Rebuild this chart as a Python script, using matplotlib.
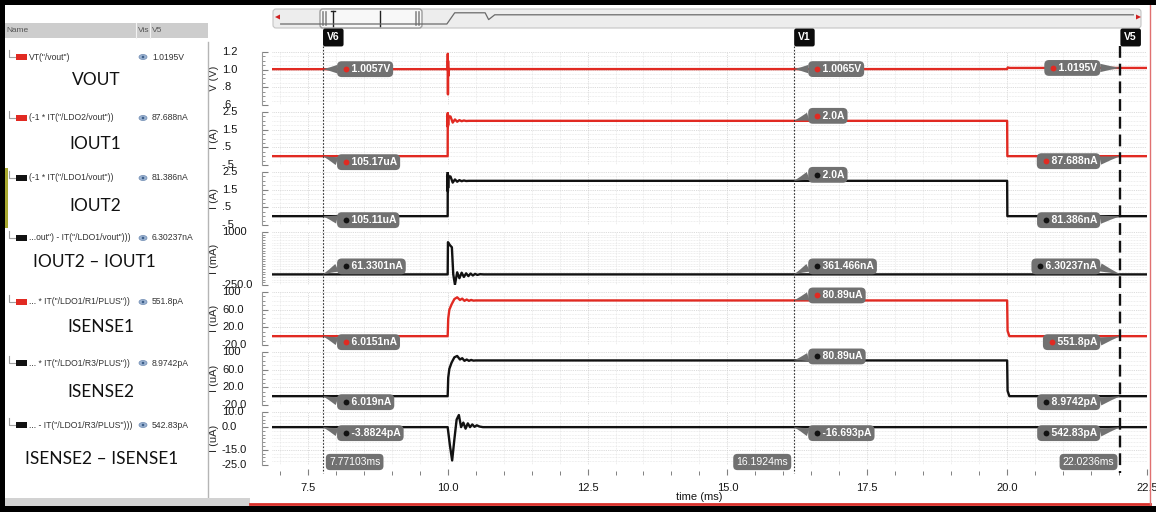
import numpy as np
import matplotlib
matplotlib.use("Agg")
import matplotlib.pyplot as plt
from matplotlib import transforms
from matplotlib.text import Text
from matplotlib.lines import Line2D
from matplotlib.patches import Rectangle, FancyBboxPatch, Ellipse, Polygon
from matplotlib.ticker import FixedLocator, MultipleLocator, FuncFormatter

plt.rcParams["font.family"] = ["Liberation Sans", "DejaVu Sans"]

# ---------------------------------------------------------------
# Transient results (time in ms)
# ---------------------------------------------------------------
T_VOUT = [6.86, 10.0, 10.002, 10.005, 10.008, 10.012, 10.02, 20.0, 20.01, 20.05, 22.5]
VOUT_V = [1.0057, 1.0057, 1.18, 0.72, 1.10, 0.93, 1.0065, 1.0065, 1.0250, 1.0195, 1.0195]

T_IOUT = [6.86, 10.0, 10.002, 10.004, 10.006, 10.008, 10.011, 10.05, 10.09, 10.13,
          10.17, 10.21, 10.25, 10.29, 10.33, 10.38, 20.0, 20.004, 22.5]
IOUT1_A = [105.17e-6, 105.17e-6, 2.45, 1.65, 2.35, 1.75, 2.2, 2.25, 1.9, 2.08,
           1.95, 2.04, 1.98, 2.02, 1.99, 2.0, 2.0, 87.688e-9, 87.688e-9]
IOUT2_A = [105.11e-6, 105.11e-6, 2.5, 1.4, 2.35, 1.6, 2.2, 2.25, 1.9, 2.08,
           1.95, 2.04, 1.98, 2.02, 1.99, 2.0, 2.0, 81.386e-9, 81.386e-9]

T_DIOUT = [6.86, 10.0, 10.005, 10.04, 10.075, 10.1, 10.13, 10.17, 10.21, 10.25, 10.29,
           10.33, 10.37, 10.41, 10.45, 10.49, 10.53, 10.58, 10.64, 20.0, 20.004, 22.5]
DIOUT_MA = [61.3301e-6, 61.3301e-6, 760, 690, 640, 0, -240, 50, -90, 40, -60,
            25, -40, 20, -25, 12, -12, 5, 361.466e-6, 361.466e-6, 6.30237e-6, 6.30237e-6]

T_IS = [6.86, 10.0, 10.01, 10.03, 10.07, 10.12, 10.17, 10.22, 10.26, 10.3,
        10.34, 10.38, 10.42, 10.46, 10.5, 20.0, 20.008, 20.04, 22.5]
IS1_UA = [6.0151e-3, 6.0151e-3, 40, 60, 72, 84, 88, 82, 85, 80,
          83, 80, 82, 80.5, 80.89, 80.89, 12, 551.8e-6, 551.8e-6]
IS2_UA = [6.019e-3, 6.019e-3, 42, 62, 76, 88, 91, 83, 86, 80,
          83, 80, 82, 80.5, 80.89, 80.89, 12, 8.9742e-6, 8.9742e-6]

T_DIS = [6.86, 10.0, 10.04, 10.08, 10.12, 10.16, 10.2, 10.24, 10.28, 10.32,
         10.36, 10.4, 10.44, 10.48, 10.52, 10.57, 10.63, 20.0, 20.004, 22.5]
DIS_UA = [-3.8824e-6, -3.8824e-6, -12, -22, -8, 5, 8, 0, 3, -1,
          2.5, 0, 1.8, 0.2, 1.2, 0.4, -16.693e-6, -16.693e-6, 542.83e-6, 542.83e-6]

# strip setup
STRIP_T = [T_VOUT, T_IOUT, T_IOUT, T_DIOUT, T_IS, T_IS, T_DIS]
STRIP_V = [VOUT_V, IOUT1_A, IOUT2_A, DIOUT_MA, IS1_UA, IS2_UA, DIS_UA]
STRIP_COLOR = ["red", "red", "black", "black", "red", "black", "black"]
STRIP_UNITS = ["V (V)", "I (A)", "I (A)", "I (mA)", "I (uA)", "I (uA)", "I (uA)"]
STRIP_YLIM = [(0.6, 1.2), (-0.5, 2.5), (-0.5, 2.5), (-250, 1000), (-20, 100), (-20, 100), (-25, 10)]
STRIP_YTICKS = [[0.6, 0.8, 1.0, 1.2], [-0.5, 0.5, 1.5, 2.5], [-0.5, 0.5, 1.5, 2.5],
                [-250, 1000], [-20, 20, 60, 100], [-20, 20, 60, 100], [-25, -15, 0, 10]]
STRIP_YTICKLABELS = [[".6", ".8", "1.0", "1.2"], ["-.5", ".5", "1.5", "2.5"],
                     ["-.5", ".5", "1.5", "2.5"], ["-250.0", "1000"],
                     ["-20.0", "20.0", "60.0", "100"], ["-20.0", "20.0", "60.0", "100"],
                     ["-25.0", "-15.0", "0.0", "10.0"]]
STRIP_YMINOR = [0.05, 0.25, 0.25, 62.5, 10, 10, 2.5]

# cursors
CURSOR_NAMES = ["V6", "V1", "V5"]
CURSOR_T = [7.77103, 16.1924, 22.0236]
CURSOR_READOUT = ["7.77103ms", "16.1924ms", "22.0236ms"]
V6_TAGS = ["1.0057V", "105.17uA", "105.11uA", "61.3301nA", "6.0151nA", "6.019nA", "-3.8824pA"]
V1_TAGS = ["1.0065V", "2.0A", "2.0A", "361.466nA", "80.89uA", "80.89uA", "-16.693pA"]
V5_TAGS = ["1.0195V", "87.688nA", "81.386nA", "6.30237nA", "551.8pA", "8.9742pA", "542.83pA"]

# browser panel
LEGEND_EXPR = ['VT("/vout")', '(-1 * IT("/LDO2/vout"))', '(-1 * IT("/LDO1/vout"))',
               '...out") - IT("/LDO1/vout")))', '... * IT("/LDO1/R1/PLUS"))',
               '... * IT("/LDO1/R3/PLUS"))', '... - IT("/LDO1/R3/PLUS")))']
LEGEND_NAMES = ["VOUT", "IOUT1", "IOUT2", "IOUT2 \u2013 IOUT1", "ISENSE1", "ISENSE2",
                "ISENSE2 \u2013 ISENSE1"]

# navigation bar trace, in bar-relative units
OVERVIEW_POS = [0.01, 0.201, 0.21, 0.245, 0.249, 0.256, 0.99]
OVERVIEW_LVL = [0.2, 0.2, 0.76, 0.76, 0.42, 0.66, 0.66]

# ---------------------------------------------------------------
W, H = 1156, 512
RED = "#e12a22"
BLK = "#121212"
COLORS = {"red": RED, "black": BLK}
TAG_BG = "#717171"

fig = plt.figure(figsize=(W / 100, H / 100), dpi=100)
fig.patch.set_facecolor("white")
PX = transforms.Affine2D().scale(1, -1).translate(0, H)   # top-left pixel frame


def fx(x):
    return x / W


def fy(y):
    return 1 - y / H


AX_L, AX_R = 272, 1147
STRIP_TOPS = [52, 112, 172, 232, 292, 352, 412]
STRIP_H = 53
XLIM = (6.86, 22.5)

TAG_DY = [(0, 0, 0), (-6, 5, -5), (-4, 6, -4), (8, 8, 8), (-6, 5, -6), (-6, 4, -6), (-6, -6, -6)]

axes = []
tags = []
for i in range(7):
    top = STRIP_TOPS[i]
    ax = fig.add_axes([fx(AX_L), fy(top + STRIP_H), (AX_R - AX_L) / W, STRIP_H / H])
    axes.append(ax)
    col = COLORS[STRIP_COLOR[i]]
    ax.plot(STRIP_T[i], STRIP_V[i], color=col, lw=1.7, zorder=3)
    ax.set_xlim(*XLIM)
    ax.set_ylim(*STRIP_YLIM[i])
    ax.set_axisbelow(True)

    ax.yaxis.set_major_locator(FixedLocator(STRIP_YTICKS[i]))
    ax.yaxis.set_minor_locator(MultipleLocator(STRIP_YMINOR[i]))
    ax.xaxis.set_major_locator(MultipleLocator(2.5))
    ax.xaxis.set_minor_locator(MultipleLocator(0.5))
    ax.grid(which="major", color="#cfcfcf", ls=(0, (1, 1.2)), lw=0.6)
    ax.grid(which="minor", color="#e0e0e0", ls=(0, (1, 1.2)), lw=0.5)

    for s in ["top", "right", "bottom"]:
        ax.spines[s].set_visible(False)
    ax.spines["left"].set_position(("outward", 7))
    ax.spines["left"].set_color("#9a9a9a")
    ax.spines["left"].set_linewidth(0.8)
    ax.tick_params(axis="y", which="both", direction="in", colors="#808080",
                   labelleft=False)
    ax.tick_params(axis="y", which="major", length=4, width=0.8)
    ax.tick_params(axis="y", which="minor", length=2.5, width=0.6)

    ylab_tr = transforms.blended_transform_factory(ax.transAxes, ax.transData)
    for v, s in zip(STRIP_YTICKS[i], STRIP_YTICKLABELS[i]):
        ax.text(-(AX_L - 222) / (AX_R - AX_L), v, s, transform=ylab_tr, ha="left",
                va="center", fontsize=8, color="#151515", clip_on=False)
    ax.set_ylabel(STRIP_UNITS[i], fontsize=8, color="#2a2a2a")
    ax.yaxis.set_label_coords(-(AX_L - 219) / (AX_R - AX_L), 0.5)

    if i < 6:
        ax.tick_params(axis="x", which="both", length=0, labelbottom=False)
    else:
        ax.spines["bottom"].set_position(("outward", 7))
        ax.tick_params(axis="x", which="both", direction="in", colors="#808080",
                       labelcolor="#151515", labelsize=8, pad=6)
        ax.tick_params(axis="x", which="major", length=4, width=0.8)
        ax.tick_params(axis="x", which="minor", length=3, width=0.7)
        ax.xaxis.set_major_formatter(FuncFormatter(lambda v, _: f"{v:.1f}"))
        ax.set_xlabel("time (ms)", fontsize=8, color="#151515")
        ax.xaxis.set_label_coords((699 - AX_L) / (AX_R - AX_L), -(492 - 465) / STRIP_H)

    # cursor readouts on this strip
    for k, (tc, lab_list) in enumerate(zip(CURSOR_T, [V6_TAGS, V1_TAGS, V5_TAGS])):
        yv = np.interp(tc, STRIP_T[i], STRIP_V[i])
        right = k < 2
        dx = 17 if right else -23
        ann = ax.annotate("    " + lab_list[i], xy=(tc, yv), xytext=(dx, TAG_DY[i][k]),
                          textcoords="offset pixels", ha="left" if right else "right",
                          va="center", fontsize=7.5, fontweight="bold", color="white",
                          bbox=dict(boxstyle="round,pad=0.28,rounding_size=0.45",
                                    fc=TAG_BG, ec="none"),
                          arrowprops=dict(arrowstyle="wedge,tail_width=0.8,shrink_factor=0.45",
                                          fc=TAG_BG, ec="none", shrinkA=0, shrinkB=0,
                                          relpos=(0, 0.5) if right else (1, 0.5)),
                          annotation_clip=False, zorder=6)
        tags.append((ann, col))

# time readouts at the bottom of the last strip
bot = axes[-1]
bt = transforms.blended_transform_factory(bot.transData, bot.transAxes)
for k, (tc, s) in enumerate(zip(CURSOR_T, CURSOR_READOUT)):
    right = k == 0
    bot.annotate(s, xy=(tc, 0), xycoords=bt, xytext=(6 if right else -6, 3),
                 textcoords="offset pixels", ha="left" if right else "right", va="center",
                 fontsize=7.5, color="white",
                 bbox=dict(boxstyle="round,pad=0.3,rounding_size=0.4", fc=TAG_BG, ec="none"),
                 annotation_clip=False, zorder=6)

# cursor lines spanning every strip, with their name flags
ct = transforms.blended_transform_factory(axes[0].transData, fig.transFigure)
for k, (tc, name) in enumerate(zip(CURSOR_T, CURSOR_NAMES)):
    if k == 2:
        ls, lw, c = (0, (5, 2.5)), 1.7, "#111111"
    else:
        ls, lw, c = (0, (1.5, 1.5)), 0.8, "#333333"
    fig.add_artist(Line2D([tc, tc], [fy(46), fy(473)], transform=ct, ls=ls, lw=lw,
                          color=c, zorder=4))
    fig.text(tc, fy(37.5), name, transform=transforms.offset_copy(ct, fig, x=4, units="dots"),
             ha="left", va="center", fontsize=7.5, fontweight="bold", color="white",
             bbox=dict(boxstyle="round,pad=0.38,rounding_size=0.2", fc="#0c0c0c", ec="none"),
             zorder=7)

# ---------------------------------------------------------------
# navigation bar
fig.add_artist(FancyBboxPatch((273, 9), 868, 19, boxstyle="round,pad=0,rounding_size=3",
                              fc="#ededed", ec="#c4c4c4", lw=0.8, transform=PX, zorder=1))
fig.add_artist(FancyBboxPatch((320, 9), 102, 19, boxstyle="round,pad=0,rounding_size=3",
                              fc="#f8f8f8", ec="#9c9c9c", lw=1.0, transform=PX, zorder=1))
for xh in [323, 326, 416, 419]:
    fig.add_artist(Line2D([xh, xh], [12, 25], transform=PX, color="#8a8a8a", lw=1.2, zorder=2))
for xh in [333, 380]:
    fig.add_artist(Line2D([xh, xh], [11, 26], transform=PX, color="#222222", lw=1.0, zorder=2))
fig.add_artist(Line2D([331, 335], [11, 11], transform=PX, color="#222222", lw=1.0, zorder=2))
fig.add_artist(Polygon([(275, 17), (280, 14.5), (280, 19.5)], transform=PX, fc="#d02020",
                       ec="none", zorder=2))
fig.add_artist(Polygon([(1141, 17), (1136, 14.5), (1136, 19.5)], transform=PX, fc="#d02020",
                       ec="none", zorder=2))
ov = fig.add_axes([fx(272), fy(28), 870 / W, 20 / H])
ov.set_zorder(3)
ov.patch.set_visible(False)
ov.set_xlim(0, 1)
ov.set_ylim(0, 1)
ov.axis("off")
ov.plot(OVERVIEW_POS, OVERVIEW_LVL, color="#6a6a6a", lw=0.9)

# ---------------------------------------------------------------
# waveform browser panel
fig.add_artist(Rectangle((5, 23), 203, 15, transform=PX, fc="#cdcdcd", ec="none", zorder=1))
for xs in [136, 150]:
    fig.add_artist(Line2D([xs, xs], [23, 38], transform=PX, color="#f2f2f2", lw=0.8, zorder=2))
for x0, s in [(6, "Name"), (138, "Vis"), (152, "V5")]:
    fig.text(x0, 30.5, s, transform=PX, fontsize=6, color="#555555", va="center", zorder=3)
fig.add_artist(Line2D([208, 208], [42, 498], transform=PX, color="#b5b5b5", lw=1.0, zorder=2))

ROW_Y = [57, 118, 178, 238, 302, 363, 425]
NAME_XY = [(96, 80), (95, 144), (95, 206), (94, 262), (101, 327), (101, 392), (102, 459)]
for i in range(7):
    y = ROW_Y[i]
    col = COLORS[STRIP_COLOR[i]]
    fig.add_artist(Line2D([9, 9, 15], [y - 7, y, y], transform=PX, color="#a0a0a0", lw=0.8,
                          zorder=2))
    fig.add_artist(Rectangle((16, y - 3), 11, 6, transform=PX, fc=col, ec="none", zorder=2))
    fig.text(29, y, LEGEND_EXPR[i], transform=PX, fontsize=6.2, color="#333333",
             va="center", zorder=3)
    fig.add_artist(Ellipse((143, y), 8, 5, transform=PX, fc="#9db4d2", ec="#6a88b0", lw=0.5,
                           zorder=2))
    fig.add_artist(Ellipse((143, y), 2.6, 2.6, transform=PX, fc="#3d5f8a", ec="none", zorder=3))
    fig.text(152, y, V5_TAGS[i], transform=PX, fontsize=6.2, color="#333333", va="center",
             zorder=3)
    nx, ny = NAME_XY[i]
    fig.text(nx, ny, LEGEND_NAMES[i], transform=PX, fontsize=12.5, color="#111111",
             ha="center", va="center", family=["Lato", "DejaVu Sans"], zorder=3)

fig.add_artist(Rectangle((5, 168), 3, 60, transform=PX, fc="#a8a830", ec="none", zorder=2))

# window frame
fig.add_artist(Rectangle((0, 0), W, 5, transform=PX, fc="black", ec="none", zorder=10))
fig.add_artist(Rectangle((0, 0), 5, H, transform=PX, fc="black", ec="none", zorder=10))
fig.add_artist(Rectangle((0, 506), W, 6, transform=PX, fc="black", ec="none", zorder=10))
fig.add_artist(Rectangle((5, 498), 245, 8, transform=PX, fc="#d2d2d2", ec="none", zorder=9))
fig.add_artist(Line2D([250, 1150], [504, 504], transform=PX, color="#d9302a", lw=2.0, zorder=9))
fig.add_artist(Line2D([1150, 1150], [5, 504], transform=PX, color="#e07070", lw=1.0, zorder=9))

# coloured markers inside the readout tags
fig.canvas.draw()
renderer = fig.canvas.get_renderer()
for ann, col in tags:
    bb = Text.get_window_extent(ann, renderer)
    fig.add_artist(Line2D([bb.x0 + 6], [(bb.y0 + bb.y1) / 2], marker="o", ms=4.2,
                          mfc=col, mec="none", ls="none",
                          transform=transforms.IdentityTransform(), zorder=8))

fig.savefig("out.png", dpi=100, facecolor="white")
